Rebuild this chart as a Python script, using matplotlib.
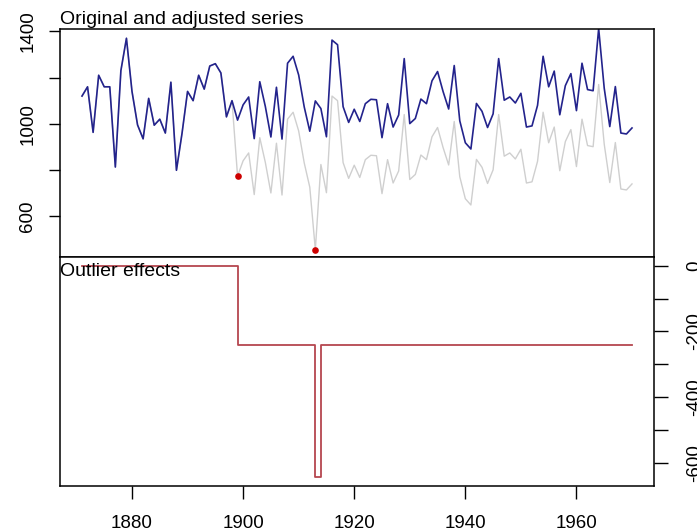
import matplotlib
matplotlib.use("Agg")
import matplotlib.pyplot as plt
import numpy as np

plt.rcParams["font.family"] = ["Liberation Sans", "DejaVu Sans"]
plt.rcParams["font.size"] = 13.5

# Nile river flow, 1871-1970
years = np.arange(1871, 1971)
nile = [1120, 1160, 963, 1210, 1160, 1160, 813, 1230, 1370, 1140,
        995, 935, 1110, 994, 1020, 960, 1180, 799, 958, 1140,
        1100, 1210, 1150, 1250, 1260, 1220, 1030, 1100, 774, 840,
        874, 694, 940, 833, 701, 916, 692, 1020, 1050, 969,
        831, 726, 456, 824, 702, 1120, 1100, 832, 764, 821,
        768, 845, 864, 862, 698, 845, 744, 796, 1040, 759,
        781, 865, 845, 944, 984, 897, 822, 1010, 771, 676,
        649, 846, 812, 742, 801, 1040, 860, 874, 848, 890,
        744, 749, 838, 1050, 918, 986, 797, 923, 975, 815,
        1020, 906, 901, 1170, 912, 746, 919, 718, 714, 740]

# outlier effects (level shift 1899, additive 1913)
effects = [0] * 28 + [-242] * 14 + [-643] + [-242] * 57
outlier_years = [1899, 1913]

nile = np.array(nile)
effects = np.array(effects)
adjusted = nile - effects
outlier_vals = [nile[years == y][0] for y in outlier_years]

W, H = 697, 531
fig = plt.figure(figsize=(W / 100, H / 100), dpi=100)
left, width = 60 / W, 594 / W
ax1 = fig.add_axes([left, 1 - 257 / H, width, 228 / H])
ax2 = fig.add_axes([left, 1 - 486 / H, width, 229 / H])

xlim = (1867.04, 1973.96)

# top panel: original (grey) and adjusted (blue)
ax1.plot(years, nile, color="#cfcfcf", lw=1.0)
ax1.plot(years, adjusted, color="#23238c", lw=1.2)
ax1.plot(outlier_years, outlier_vals, "o", color="#cd0000", ms=4.8, mec="none")
ax1.set_xlim(*xlim)
ax1.set_ylim(424, 1410)
ax1.set_yticks([600, 800, 1000, 1200, 1400])
ax1.set_yticklabels(["600", "", "1000", "", "1400"], rotation=90, va="center")
ax1.tick_params(axis="y", length=8, width=1, pad=9)
ax1.set_xticks([])
ax1.text(0, 1.005, "Original and adjusted series", transform=ax1.transAxes,
         ha="left", va="bottom", fontsize=14)

# bottom panel: outlier effects
ax2.step(years, effects, where="post", color="#b5474f", lw=1.3)
ax2.set_xlim(*xlim)
ax2.set_ylim(-669, 26)
ax2.yaxis.tick_right()
ax2.set_yticks([0, -100, -200, -300, -400, -500, -600])
ax2.set_yticklabels(["0", "", "-200", "", "-400", "", "-600"], rotation=90, va="center")
ax2.tick_params(axis="y", length=10, width=1, pad=13)
ax2.set_xticks([1880, 1900, 1920, 1940, 1960])
ax2.tick_params(axis="x", length=9, width=1, pad=12)
ax2.text(0, 0.975, "Outlier effects", transform=ax2.transAxes,
         ha="left", va="top", fontsize=14)

for ax in (ax1, ax2):
    for s in ax.spines.values():
        s.set_linewidth(1.1)

fig.savefig("out.png", dpi=100)
